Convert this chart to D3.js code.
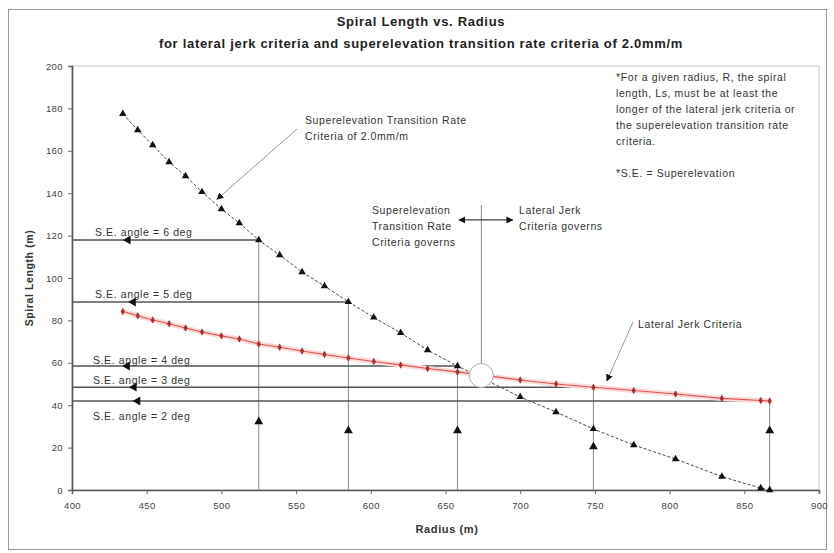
<!DOCTYPE html>
<html>
<head>
<meta charset="utf-8">
<script src="https://cdn.jsdelivr.net/npm/d3@7/dist/d3.min.js"></script>
<style>
  html, body { margin: 0; padding: 0; background: #fff; }
  svg { display: block; font-family: "Liberation Sans", Arial, sans-serif; }
</style>
</head>
<body>
<svg id="chart" width="834" height="553"></svg>
<script>
// Curve radii (m), shared by both criteria
const radius = [434, 444, 454, 465, 476, 487, 500, 512, 525, 539, 554, 569, 585,
                602, 620, 638, 658, 700, 724, 749, 776, 804, 835, 861, 867];
// Spiral length (m) from the superelevation transition rate criteria of 2.0 mm/m
const seTransition = [177.4, 169.8, 162.7, 154.7, 148.1, 140.6, 132.5, 125.9, 117.9,
                      110.8, 102.8, 96.2, 88.7, 81.4, 74.1, 66.0, 58.5, 43.9, 36.8,
                      28.8, 21.2, 14.6, 6.3, 0.9, 0];
// Spiral length (m) from the lateral jerk criteria
const lateralJerk = [84.2, 82.2, 80.2, 78.4, 76.4, 74.5, 72.7, 71.2, 68.9, 67.3, 65.6,
                     63.9, 62.3, 60.6, 59.0, 57.3, 55.7, 51.9, 50.0, 48.5, 46.9, 45.3,
                     43.2, 42.2, 42.0];

// Superelevation angle guide lines: angle, radius where the line meets a curve, which curve
const seAngles = [6, 5, 4, 3, 2];
const seRadius = [525, 585, 658, 749, 867];
const seCurve  = ["transition", "transition", "transition", "jerk", "jerk"];

const xTicks = [400, 450, 500, 550, 600, 650, 700, 750, 800, 850, 900];
const yTicks = [0, 20, 40, 60, 80, 100, 120, 140, 160, 180, 200];

const titleText = "Spiral Length vs. Radius";
const subtitleText = "for lateral jerk criteria and superelevation transition rate criteria of 2.0mm/m";
const noteLines = [
  "*For a given radius, R, the spiral",
  "length, Ls, must be at least the",
  "longer of the lateral jerk criteria or",
  "the superelevation transition rate",
  "criteria."
];
const noteAbbrev = "*S.E. = Superelevation";

const svg = d3.select("#chart");
const plot = { left: 72, right: 819, top: 66, bottom: 490 };

const x = d3.scaleLinear().domain([400, 900]).range([plot.left, plot.right]);
const y = d3.scaleLinear().domain([0, 200]).range([plot.bottom, plot.top]);

// outer chart border
svg.append("rect").attr("x", 8.5).attr("y", 9.5).attr("width", 818).attr("height", 540)
  .attr("fill", "#fff").attr("stroke", "#999").attr("stroke-width", 1);

// arrowhead marker
const defs = svg.append("defs");
defs.append("marker").attr("id", "arrow").attr("viewBox", "0 0 10 10")
  .attr("refX", 9).attr("refY", 5).attr("markerWidth", 7).attr("markerHeight", 7)
  .attr("markerUnits", "userSpaceOnUse").attr("orient", "auto")
  .append("path").attr("d", "M0,0 L10,5 L0,10 Z").attr("fill", "#111");

// titles
svg.append("text").attr("x", 421).attr("y", 26).attr("text-anchor", "middle")
  .attr("font-size", 13).attr("letter-spacing", 0.7).attr("font-weight", "bold")
  .attr("fill", "#222").text(titleText);
svg.append("text").attr("x", 421).attr("y", 48).attr("text-anchor", "middle")
  .attr("font-size", 13).attr("letter-spacing", 0.7).attr("font-weight", "bold")
  .attr("fill", "#222").text(subtitleText);

// plot frame
svg.append("rect").attr("x", plot.left).attr("y", plot.top)
  .attr("width", plot.right - plot.left).attr("height", plot.bottom - plot.top)
  .attr("fill", "none").attr("stroke", "#c8c8c8");

// axes
const xAxis = svg.append("g").attr("transform", `translate(0,${plot.bottom})`)
  .call(d3.axisBottom(x).tickValues(xTicks).tickSize(4).tickPadding(8).tickFormat(d3.format("d")));
const yAxis = svg.append("g").attr("transform", `translate(${plot.left},0)`)
  .call(d3.axisLeft(y).tickValues(yTicks).tickSize(4).tickPadding(5).tickFormat(d3.format("d")));
[xAxis, yAxis].forEach(g => {
  g.select(".domain").attr("stroke", "#555").attr("stroke-width", 1.6);
  g.selectAll(".tick line").attr("stroke", "#666");
  g.selectAll(".tick text").attr("fill", "#444").attr("font-size", 9.5)
    .attr("letter-spacing", 0.4)
    .attr("font-family", "Liberation Sans, Arial, sans-serif");
});

svg.append("text").attr("x", 447).attr("y", 533).attr("text-anchor", "middle")
  .attr("font-size", 11).attr("letter-spacing", 0.6).attr("font-weight", "bold")
  .attr("fill", "#333").text("Radius (m)");
svg.append("text").attr("transform", "translate(33,278) rotate(-90)").attr("text-anchor", "middle")
  .attr("font-size", 10.5).attr("letter-spacing", 0.6).attr("font-weight", "bold")
  .attr("fill", "#333").text("Spiral Length (m)");

// superelevation angle guide lines
const seGroup = svg.append("g");
const labelDy = [-4, -4, -2, -3, 19];
const arrowLeftX = [437.5, 441, 437, 441.5, 444];
const arrowUpY = [32.2, 28, 28, 20.4, 28];
seAngles.forEach((ang, i) => {
  const r = seRadius[i];
  const idx = radius.indexOf(r);
  const v = seCurve[i] === "jerk" ? lateralJerk[idx] : seTransition[idx];
  const py = y(v);
  seGroup.append("line").attr("x1", plot.left).attr("x2", x(r)).attr("y1", py).attr("y2", py)
    .attr("stroke", "#555").attr("stroke-width", 1.4);
  seGroup.append("line").attr("x1", x(r)).attr("x2", x(r)).attr("y1", py).attr("y2", plot.bottom)
    .attr("stroke", "#888").attr("stroke-width", 1);
  seGroup.append("text").attr("x", i < 2 ? 95 : 93).attr("y", py + labelDy[i])
    .attr("font-size", 10.5).attr("letter-spacing", 0.6).attr("fill", "#333")
    .text(`S.E. angle = ${ang} deg`);
  // left-pointing arrowhead on the horizontal line
  seGroup.append("path")
    .attr("d", d3.symbol(d3.symbolTriangle, 34)())
    .attr("transform", `translate(${x(arrowLeftX[i])},${py}) rotate(-90)`)
    .attr("fill", "#111");
  // upward arrowhead on the vertical line
  seGroup.append("path")
    .attr("d", d3.symbol(d3.symbolTriangle, 34)())
    .attr("transform", `translate(${x(r)},${y(arrowUpY[i])})`)
    .attr("fill", "#111");
});

// lateral jerk curve
const ljData = radius.map((r, i) => [r, lateralJerk[i]]);
const seData = radius.map((r, i) => [r, seTransition[i]]);
const line = d3.line().x(d => x(d[0])).y(d => y(d[1]));

svg.append("path").datum(ljData).attr("d", line).attr("fill", "none")
  .attr("stroke", "#fbdada").attr("stroke-width", 5);
svg.append("path").datum(ljData).attr("d", line).attr("fill", "none")
  .attr("stroke", "#e05050").attr("stroke-width", 1.1);
svg.append("g").selectAll("path").data(ljData).join("path")
  .attr("d", d3.symbol(d3.symbolDiamond, 16)())
  .attr("transform", d => `translate(${x(d[0])},${y(d[1])})`)
  .attr("fill", "#a83232");

// superelevation transition curve
svg.append("path").datum(seData).attr("d", line).attr("fill", "none")
  .attr("stroke", "#444").attr("stroke-width", 1).attr("stroke-dasharray", "3,2");
svg.append("g").selectAll("path").data(seData).join("path")
  .attr("d", d3.symbol(d3.symbolTriangle, 24)())
  .attr("transform", d => `translate(${x(d[0])},${y(d[1])})`)
  .attr("fill", "#111");

// governing-criteria divider and double arrow
const crossR = 674, crossV = 54;
svg.append("line").attr("x1", x(crossR)).attr("x2", x(crossR)).attr("y1", y(134.4)).attr("y2", y(crossV) - 12)
  .attr("stroke", "#888").attr("stroke-width", 1);
svg.append("line").attr("x1", x(crossR)).attr("x2", x(659)).attr("y1", y(127.4)).attr("y2", y(127.4))
  .attr("stroke", "#111").attr("stroke-width", 1).attr("marker-end", "url(#arrow)");
svg.append("line").attr("x1", x(crossR)).attr("x2", x(695)).attr("y1", y(127.4)).attr("y2", y(127.4))
  .attr("stroke", "#111").attr("stroke-width", 1).attr("marker-end", "url(#arrow)");

svg.append("circle").attr("cx", x(crossR)).attr("cy", y(crossV)).attr("r", 12)
  .attr("fill", "#fff").attr("stroke", "#aaa").attr("stroke-width", 1);

const annot = svg.append("g").attr("font-size", 10.5).attr("letter-spacing", 0.6).attr("fill", "#333");
const addLines = (lines, px, py, dy) => {
  lines.forEach((t, i) => annot.append("text").attr("x", px).attr("y", py + i * dy).text(t));
};
addLines(["Superelevation", "Transition Rate", "Criteria governs"], 372, 214, 16);
addLines(["Lateral Jerk", "Criteria governs"], 519, 214, 16);
addLines(["Superelevation Transition Rate", "Criteria of 2.0mm/m"], 305, 124, 16);
addLines(["Lateral Jerk Criteria"], 638, 328, 16);
addLines(noteLines, 616, 81, 16);
addLines([noteAbbrev], 616, 177, 16);

// leader lines to the curves
svg.append("line").attr("x1", 297).attr("y1", 129).attr("x2", x(497)).attr("y2", y(137.1))
  .attr("stroke", "#999").attr("stroke-width", 1).attr("marker-end", "url(#arrow)");
svg.append("line").attr("x1", 633).attr("y1", 322).attr("x2", x(758)).attr("y2", y(51.5))
  .attr("stroke", "#999").attr("stroke-width", 1).attr("marker-end", "url(#arrow)");
</script>
</body>
</html>
